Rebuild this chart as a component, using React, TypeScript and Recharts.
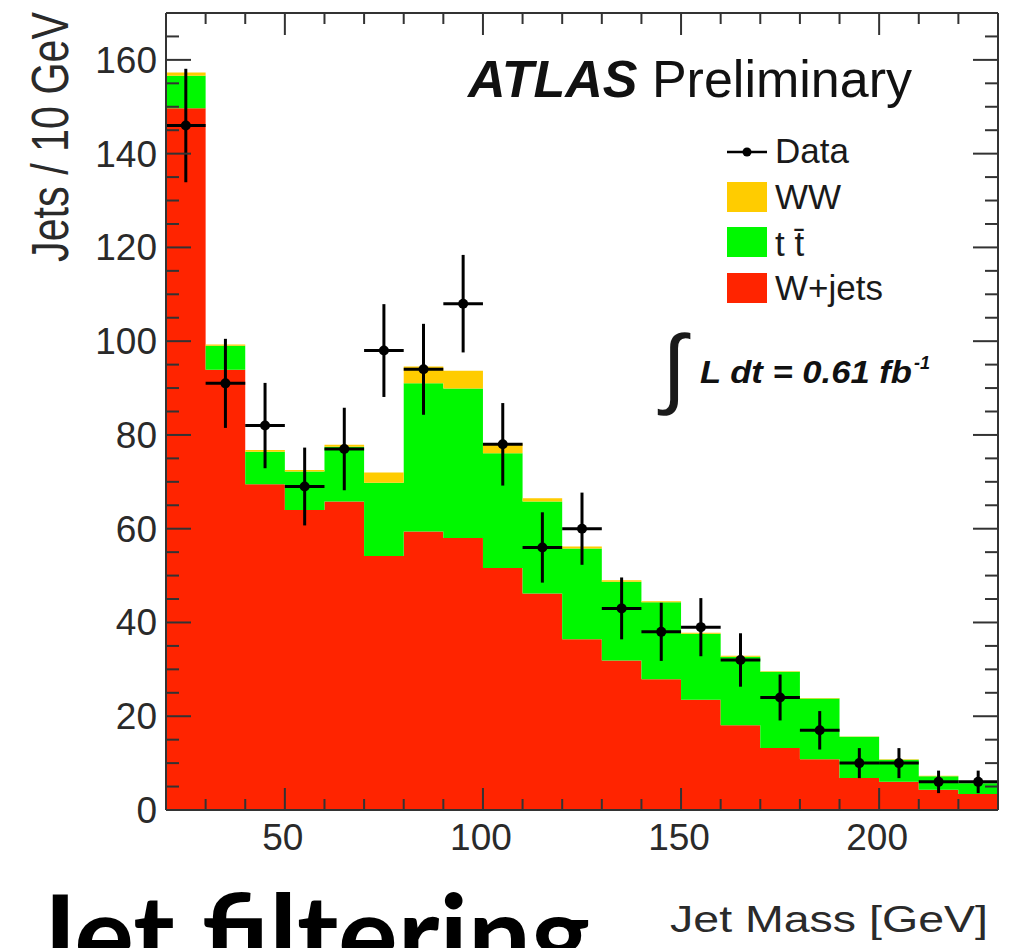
import { ComposedChart, Area, Scatter, ErrorBar, XAxis, YAxis, ReferenceLine } from 'recharts'

// jet mass bins (GeV), 10 GeV wide
const binCenters = [25, 35, 45, 55, 65, 75, 85, 95, 105, 115, 125, 135, 145, 155, 165, 175, 185, 195, 205, 215, 225]
const binHalfWidth = 5

// stacked MC, jets / 10 GeV
const wJets = [149.7, 93.9, 69.5, 64.0, 65.8, 54.2, 59.4, 58.0, 51.6, 46.2, 36.4, 31.9, 27.9, 23.5, 18.1, 13.2, 10.8, 6.8, 6.0, 4.3, 3.4]
const ttbar = [6.9, 5.1, 6.9, 8.2, 11.7, 15.6, 31.6, 31.9, 24.5, 19.6, 19.4, 16.8, 16.4, 14.1, 14.6, 16.3, 13.0, 8.8, 4.7, 2.9, 2.3]
const ww = [0.7, 0.3, 0.4, 0.3, 0.4, 2.2, 3.6, 3.8, 2.1, 0.7, 0.4, 0.3, 0.2, 0.2, 0.2, 0.1, 0.1, 0.1, 0.1, 0.1, 0.0]

// data points with stat. errors
const dataCounts = [146, 91, 82, 69, 77, 98, 94, 108, 78, 56, 60, 43, 38, 39, 32, 24, 17, 10, 10, 6, 6]
const dataErr = [12.1, 9.5, 9.1, 8.3, 8.8, 9.9, 9.7, 10.4, 8.8, 7.5, 7.7, 6.6, 6.2, 6.2, 5.7, 4.9, 4.1, 3.2, 3.2, 2.4, 2.4]

const xTicks = [20, 30, 40, 50, 60, 70, 80, 90, 100, 110, 120, 130, 140, 150, 160, 170, 180, 190, 200, 210, 220, 230]
const xLabels = [50, 100, 150, 200]
const yTicks = [0, 5, 10, 15, 20, 25, 30, 35, 40, 45, 50, 55, 60, 65, 70, 75, 80, 85, 90, 95, 100, 105, 110, 115, 120, 125, 130, 135, 140, 145, 150, 155, 160, 165, 170]
const yLabels = [0, 20, 40, 60, 80, 100, 120, 140, 160]

const RED = '#ff2400'
const GREEN = '#00f800'
const YELLOW = '#ffcc00'
const AXIS = '#333'
const FONT = '"Liberation Sans", Arial, sans-serif'

const W = 1013
const H = 948
const M = { top: 13, right: 15, bottom: 78, left: 0 }
const Y_AXIS_W = 166
const X_AXIS_H = 60
const PLOT_W = W - M.left - M.right - Y_AXIS_W
const PLOT_H = H - M.top - M.bottom - X_AXIS_H

const last = binCenters.length - 1
const histRows = binCenters.map((c, i) => ({ x: c - binHalfWidth, w: wJets[i], tt: ttbar[i], ww: ww[i] }))
histRows.push({ x: binCenters[last] + binHalfWidth, w: wJets[last], tt: ttbar[last], ww: ww[last] })

const points = binCenters.map((c, i) => ({ x: c, y: dataCounts[i], err: dataErr[i], xerr: binHalfWidth }))

function XTick({ x, y, payload }: any) {
  const v = payload.value
  const major = xLabels.includes(v)
  const len = major ? 22 : 11
  return (
    <g>
      <line x1={x} y1={y} x2={x} y2={y - len} stroke={AXIS} strokeWidth={2} />
      <line x1={x} y1={y - PLOT_H} x2={x} y2={y - PLOT_H + len} stroke={AXIS} strokeWidth={2} />
      {major && (
        <text x={x - 2} y={y + 40} textAnchor="middle" fontFamily={FONT} fontSize={37} fill="#2a2a2a">{v}</text>
      )}
    </g>
  )
}

function YTick({ x, y, payload }: any) {
  const v = payload.value
  const major = yLabels.includes(v)
  const len = major ? 25 : 13
  return (
    <g>
      <line x1={x} y1={y} x2={x + len} y2={y} stroke={AXIS} strokeWidth={2} />
      <line x1={x + PLOT_W} y1={y} x2={x + PLOT_W - len} y2={y} stroke={AXIS} strokeWidth={2} />
      {major && (
        <text x={x - 9} y={y + 13} textAnchor="end" fontFamily={FONT} fontSize={37} fill="#2a2a2a">{v}</text>
      )}
    </g>
  )
}

function Dot(p: any) {
  return <circle cx={p.cx} cy={p.cy} r={5} fill="#000" />
}

function Overlay() {
  return (
    <svg width={W} height={H} style={{ position: 'absolute', top: 0, left: 0, pointerEvents: 'none' }}>
      <text x={468} y={97} fontFamily={FONT} fontSize={52} fill="#111">
        <tspan fontWeight="bold" fontStyle="italic">ATLAS</tspan>
        <tspan> Preliminary</tspan>
      </text>

      {/* legend */}
      <line x1={727} y1={152} x2={767} y2={152} stroke="#000" strokeWidth={2.5} />
      <circle cx={747} cy={152} r={4.5} fill="#000" />
      <text x={775} y={163} fontFamily={FONT} fontSize={35} fill="#1a1a1a">Data</text>
      <rect x={727} y={182} width={40} height={30} fill={YELLOW} />
      <text x={775} y={209} fontFamily={FONT} fontSize={35} fill="#1a1a1a">WW</text>
      <rect x={727} y={227} width={40} height={30} fill={GREEN} />
      <text x={775} y={256} fontFamily={FONT} fontSize={35} fill="#1a1a1a">t t̄</text>
      <rect x={727} y={273} width={40} height={30} fill={RED} />
      <text x={775} y={300} fontFamily={FONT} fontSize={35} fill="#1a1a1a">W+jets</text>

      {/* luminosity */}
      <text x={662} y={397} fontFamily={FONT} fontSize={88} fill="#1a1a1a">∫</text>
      <text x={700} y={383} fontFamily={FONT} fontSize={32} fontWeight="bold" fontStyle="italic" fill="#111"
        textLength={212} lengthAdjust="spacingAndGlyphs">L dt = 0.61 fb</text>
      <text x={914} y={369} fontFamily={FONT} fontSize={18} fontWeight="bold" fontStyle="italic" fill="#111">-1</text>

      {/* axis titles */}
      <text transform="translate(68,12) scale(1.3,1) rotate(-90)" textAnchor="end" fontFamily={FONT} fontSize={40}
        textLength={250} lengthAdjust="spacingAndGlyphs" fill="#2a2a2a">Jets / 10 GeV</text>
      <text x={670} y={932} fontFamily={FONT} fontSize={36} textLength={318} lengthAdjust="spacingAndGlyphs" fill="#2a2a2a">
        Jet Mass [GeV]
      </text>

      <text x={28} y={975} fontFamily='Lato, "Open Sans", sans-serif' fontWeight="bold" fontSize={112}
        textLength={562} lengthAdjust="spacingAndGlyphs" fill="#000">
        Jet filtering
      </text>
    </svg>
  )
}

export default function App() {
  return (
    <div style={{ position: 'absolute', top: 0, left: 0, width: W, height: H, background: '#fff', overflow: 'hidden' }}>
      <ComposedChart width={W} height={H} data={histRows} margin={M}>
        <Area type="stepAfter" dataKey="w" stackId="mc" fill={RED} fillOpacity={1} stroke="none" isAnimationActive={false} />
        <Area type="stepAfter" dataKey="tt" stackId="mc" fill={GREEN} fillOpacity={1} stroke="none" isAnimationActive={false} />
        <Area type="stepAfter" dataKey="ww" stackId="mc" fill={YELLOW} fillOpacity={1} stroke="none" isAnimationActive={false} />
        <Scatter data={points} dataKey="y" shape={Dot} isAnimationActive={false}>
          <ErrorBar dataKey="err" direction="y" width={0} stroke="#000" strokeWidth={3} isAnimationActive={false} />
          <ErrorBar dataKey="xerr" direction="x" width={0} stroke="#000" strokeWidth={3} isAnimationActive={false} />
        </Scatter>
        <ReferenceLine x={230} stroke={AXIS} strokeWidth={2} />
        <ReferenceLine y={170} stroke={AXIS} strokeWidth={2} />
        <XAxis dataKey="x" type="number" domain={[20, 230]} allowDataOverflow ticks={xTicks} interval={0}
          height={X_AXIS_H} tickSize={0} tickMargin={0} tick={<XTick />} axisLine={{ stroke: AXIS, strokeWidth: 2 }} tickLine={false} />
        <YAxis type="number" domain={[0, 170]} allowDataOverflow ticks={yTicks} interval={0}
          width={Y_AXIS_W} tickSize={0} tickMargin={0} tick={<YTick />} axisLine={{ stroke: AXIS, strokeWidth: 2 }} tickLine={false} />
      </ComposedChart>
      <Overlay />
    </div>
  )
}
